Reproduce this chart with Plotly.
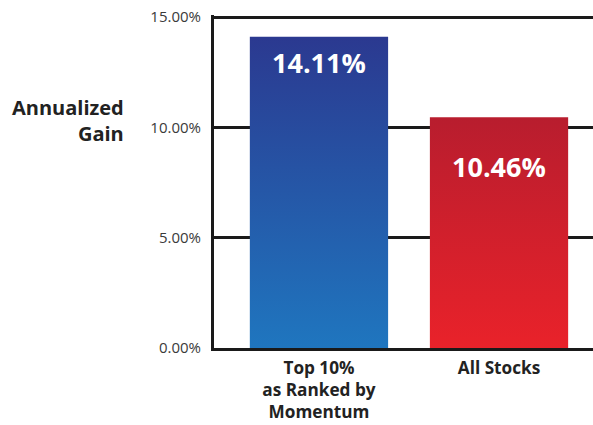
import plotly.graph_objects as go

# ---- data ----
categories = ["Top 10%<br>as Ranked by<br>Momentum", "All Stocks"]
gains = [14.11, 10.46]
value_labels = ["14.11%", "10.46%"]
y_ticks = [0, 5, 10, 15]
y_tick_labels = ["0.00%", "5.00%", "10.00%", "15.00%"]
colors_top = ["#2b3990", "#b81d2e"]
colors_bottom = ["#1f76bf", "#e9222a"]

bar_width = 0.768
label_shift = [-26, -49]

fig = go.Figure()
for i, (v, ct, cb) in enumerate(zip(gains, colors_top, colors_bottom)):
    x0, x1 = i - bar_width / 2, i + bar_width / 2
    fig.add_trace(go.Scatter(
        x=[x0, x1, x1, x0, x0], y=[0, 0, v, v, 0],
        mode="lines", line=dict(width=0), fill="toself",
        fillgradient=dict(type="vertical", colorscale=[[0, cb], [1, ct]]),
        hoverinfo="skip", showlegend=False,
    ))
    fig.add_annotation(x=i, y=v, text="<b>%s</b>" % value_labels[i], showarrow=False,
                       yanchor="middle", yshift=label_shift[i],
                       font=dict(family="Open Sans", size=27, color="white"))

fig.add_annotation(xref="paper", yref="paper", x=-0.233, y=0.683, xanchor="right",
                   yanchor="middle", align="right",
                   text="<b>Annualized<br>Gain</b>", showarrow=False,
                   font=dict(family="Open Sans", size=20, color="#222222"))

fig.update_layout(
    width=593, height=425,
    margin=dict(l=214, r=0, t=15, b=77, autoexpand=False),
    paper_bgcolor="white", plot_bgcolor="white",
    xaxis=dict(range=[-0.583, 1.522], tickvals=[0, 1],
               ticktext=["<b>%s</b>" % c for c in categories],
               showgrid=False, zeroline=False, showline=True, automargin=False,
               linecolor="#1a1a1a", linewidth=3, ticks="", ticklabelstandoff=2,
               tickfont=dict(family="Open Sans", size=17.2, color="#222222")),
    yaxis=dict(range=[0, 15.1], tickvals=y_ticks, ticktext=y_tick_labels,
               showgrid=True, gridcolor="#1a1a1a", gridwidth=3, automargin=False,
               zeroline=False, showline=True, linecolor="#1a1a1a", linewidth=3,
               ticks="", ticklabelstandoff=7,
               tickfont=dict(family="Open Sans", size=15, color="#3a3a3a")),
)

fig.write_html("out.html")
